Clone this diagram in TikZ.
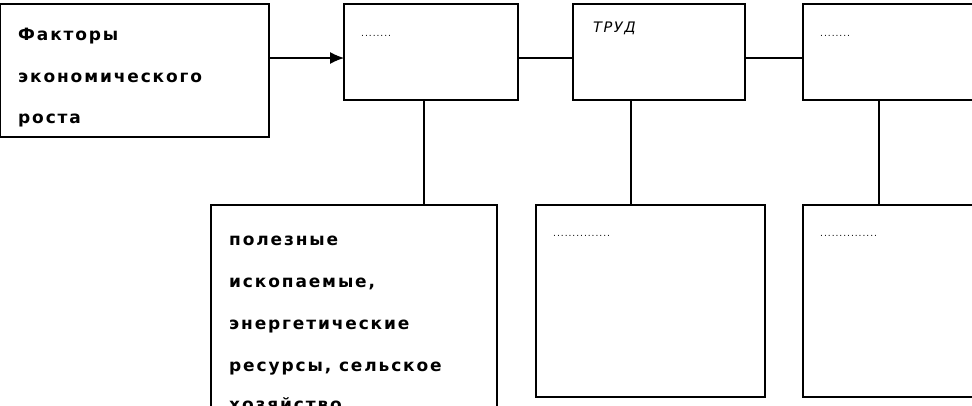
\documentclass[tikz,border=0pt]{standalone}
\usetikzlibrary{arrows.meta}
\usepackage{fontspec}
\setmainfont{DejaVu Sans}[LetterSpace=11]
\begin{document}
\begin{tikzpicture}[x=1pt,y=-1pt,
  box/.style={draw,line width=1.3pt},
  lab/.style={anchor=base west,inner sep=0pt,font=\bfseries\fontsize{17}{19}\selectfont},
  con/.style={line width=1.1pt}]
\useasboundingbox (0,0) rectangle (972,405);
\clip (0,0) rectangle (972,405);
\draw[box] (0.7,4) rectangle (269,137);
\coordinate (b1e) at (269,58);
\draw[box] (344,4) rectangle (518,100);
\coordinate (b2w) at (344,58);\coordinate (b2e) at (518,58);\coordinate (b2s) at (424,100);
\draw[box] (573,4) rectangle (745,100);
\coordinate (b3w) at (573,58);\coordinate (b3e) at (745,58);\coordinate (b3s) at (631,100);
\draw[box] (803,4) rectangle (980,100);
\coordinate (b4w) at (803,58);\coordinate (b4s) at (879,100);
\draw[box] (211,205) rectangle (497,420);
\coordinate (b5n) at (424,205);
\draw[box] (536,205) rectangle (765,397);
\coordinate (b6n) at (631,205);
\draw[box] (803,205) rectangle (980,397);
\coordinate (b7n) at (879,205);
\draw[con,-{Latex[length=14pt,width=12pt]}] (b1e) -- (b2w);
\draw[con] (b2e) -- (b3w);
\draw[con] (b3e) -- (b4w);
\draw[con] (b2s) -- (b5n);
\draw[con] (b3s) -- (b6n);
\draw[con] (b4s) -- (b7n);
\node[lab] (t1) at (18,40) {Факторы};
\node[lab] (t2) at (18,82) {экономического};
\node[lab] (t3) at (18,123) {роста};
\node[lab,font=\fontsize{9}{10}\selectfont] (t4) at (361,36) {........};
\node[lab,font=\itshape\fontsize{14.5}{16}\selectfont] (t5) at (593,32) {ТРУД};
\node[lab,font=\fontsize{9}{10}\selectfont] (t6) at (820,36) {........};
\node[lab,font=\fontsize{9}{10}\selectfont] (t7) at (553,236) {...............};
\node[lab,font=\fontsize{9}{10}\selectfont] (t8) at (820,236) {...............};
\node[lab] (t9) at (229,245) {полезные};
\node[lab] (t10) at (229,287) {ископаемые,};
\node[lab] (t11) at (229,329) {энергетические};
\node[lab] (t12) at (229,371) {ресурсы, сельское};
\node[lab] (t13) at (229,410) {хозяйство};
\end{tikzpicture}
\end{document}
